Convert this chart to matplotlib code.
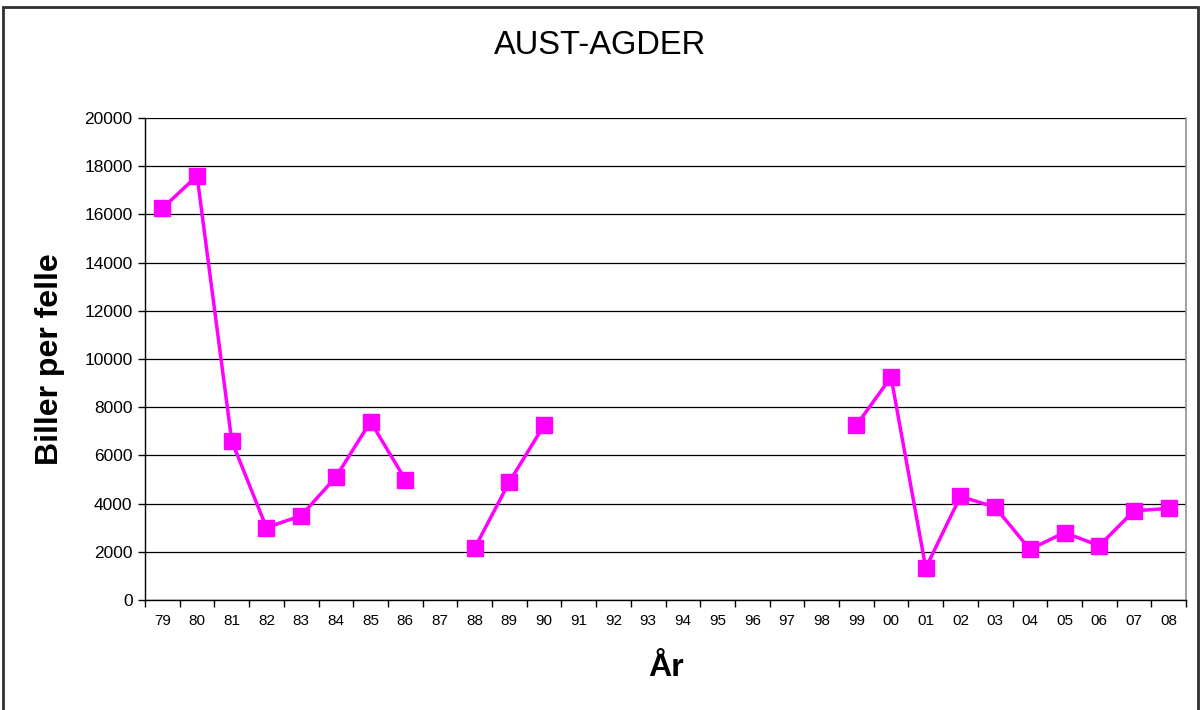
import numpy as np
import matplotlib
matplotlib.use("Agg")
import matplotlib.pyplot as plt
from matplotlib.patches import Rectangle

plt.rcParams['font.family'] = ['Liberation Sans', 'DejaVu Sans']

years = ["79", "80", "81", "82", "83", "84", "85", "86", "87", "88", "89", "90",
         "91", "92", "93", "94", "95", "96", "97", "98", "99", "00", "01", "02",
         "03", "04", "05", "06", "07", "08"]
nan = np.nan
values = [16250, 17600, 6600, 3000, 3500, 5100, 7400, 5000, nan, 2150, 4900, 7250,
          nan, nan, nan, nan, nan, nan, nan, nan, 7250, 9250, 1330, 4300,
          3850, 2100, 2800, 2250, 3700, 3800]

fig = plt.figure(figsize=(12, 7.1), dpi=100)
ax = fig.add_axes([145/1200, 1-600/710, (1186-145)/1200, (600-118)/710])

x = np.arange(len(years))
ax.plot(x, values, color='#FF00FF', lw=2.5, marker='s', markersize=11,
        markeredgecolor='#FF00FF', markerfacecolor='#FF00FF', zorder=3)

ax.set_xlim(-0.5, len(years) - 0.5)
ax.set_ylim(0, 20000)
ax.set_yticks(np.arange(0, 20001, 2000))
ax.set_xticks(x)
ax.set_xticklabels(years)
ax.set_xticks(np.arange(-0.5, len(years), 1), minor=True)
ax.tick_params(axis='x', which='major', length=0, labelsize=11, pad=10)
ax.tick_params(axis='x', which='minor', length=5, width=1, direction='out')
ax.tick_params(axis='y', which='major', length=5, width=1, direction='out', labelsize=12.5, pad=4)

ax.yaxis.grid(True, color='black', lw=0.9)
ax.set_axisbelow(True)
for s in ['top', 'right']:
    ax.spines[s].set_visible(False)
ax.spines['left'].set_color('black')
ax.spines['bottom'].set_color('black')
ax.spines['left'].set_linewidth(1)
ax.spines['bottom'].set_linewidth(1)
ax.plot([1, 1], [0, 1], transform=ax.transAxes, color='#909090', lw=1.2, clip_on=False)

ax.set_ylabel("Biller per felle", fontsize=23, fontweight='bold')
ax.yaxis.set_label_coords((50-145)/1041, 0.5)
ax.set_xlabel("År", fontsize=23, fontweight='bold')
ax.xaxis.set_label_coords(0.5, (600-668)/482)
ax.xaxis.label.set_va('center')
ax.yaxis.label.set_va('center')
fig.text(0.5, 1-45/710, "AUST-AGDER", ha='center', va='center', fontsize=23.5)

fig.patches.append(Rectangle((3/1200, -0.01), 1195/1200, 1.0, transform=fig.transFigure,
                             fill=False, edgecolor='#303030', lw=2))

fig.savefig("out.png", dpi=100)
